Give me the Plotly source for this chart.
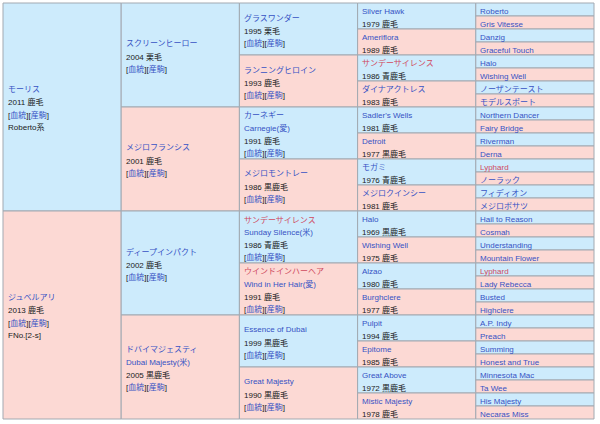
import plotly.graph_objects as go

# --- pedigree data (5 generations, top = sire side) ---
gen1_names = ["モーリス", "ジュベルアリ"]
gen1_info = ["2011 鹿毛", "2013 鹿毛"]
gen1_extra = ["Roberto系", "FNo.[2-s]"]

gen2_names = ["スクリーンヒーロー", "メジロフランシス", "ディープインパクト", "ドバイマジェスティ"]
gen2_alt = ["", "", "", "Dubai Majesty(米)"]
gen2_info = ["2004 栗毛", "2001 鹿毛", "2002 鹿毛", "2005 黒鹿毛"]

gen3_names = ["グラスワンダー", "ランニングヒロイン", "カーネギー", "メジロモントレー",
              "サンデーサイレンス", "ウインドインハーヘア", "Essence of Dubai", "Great Majesty"]
gen3_alt = ["", "", "Carnegie(愛)", "", "Sunday Silence(米)", "Wind in Her Hair(愛)", "", ""]
gen3_info = ["1995 栗毛", "1993 鹿毛", "1991 鹿毛", "1986 黒鹿毛",
             "1986 青鹿毛", "1991 鹿毛", "1999 黒鹿毛", "1990 黒鹿毛"]

gen4_names = ["Silver Hawk", "Ameriflora", "サンデーサイレンス", "ダイナアクトレス",
              "Sadler's Wells", "Detroit", "モガミ", "メジロクインシー",
              "Halo", "Wishing Well", "Alzao", "Burghclere",
              "Pulpit", "Epitome", "Great Above", "Mistic Majesty"]
gen4_info = ["1979 鹿毛", "1989 鹿毛", "1986 青鹿毛", "1983 鹿毛",
             "1981 鹿毛", "1977 黒鹿毛", "1976 青鹿毛", "1981 鹿毛",
             "1969 黒鹿毛", "1975 鹿毛", "1980 鹿毛", "1977 鹿毛",
             "1994 鹿毛", "1985 鹿毛", "1972 黒鹿毛", "1978 鹿毛"]

gen5_names = ["Roberto", "Gris Vitesse", "Danzig", "Graceful Touch",
              "Halo", "Wishing Well", "ノーザンテースト", "モデルスポート",
              "Northern Dancer", "Fairy Bridge", "Riverman", "Derna",
              "Lyphard", "ノーラック", "フィディオン", "メジロボサツ",
              "Hail to Reason", "Cosmah", "Understanding", "Mountain Flower",
              "Lyphard", "Lady Rebecca", "Busted", "Highclere",
              "A.P. Indy", "Preach", "Summing", "Honest and True",
              "Minnesota Mac", "Ta Wee", "His Majesty", "Necaras Miss"]

red_links = ["サンデーサイレンス", "ウインドインハーヘア", "Lyphard"]

BLUE_BG = "#cdebfc"
PINK_BG = "#fcd9d4"
LINK = "#3652c4"
RED = "#d04a5e"
TEXT = "#202122"
LINKS_LINE = ("[<span style='color:%s'>血統</span>][<span style='color:%s'>産駒</span>]"
              % (LINK, LINK))


def name_color(n):
    return RED if n in red_links else LINK


# build per-generation lists of cell lines
generations = []
generations.append([
    [(gen1_names[i], name_color(gen1_names[i])), (gen1_info[i], TEXT),
     (LINKS_LINE, TEXT), (gen1_extra[i], TEXT)]
    for i in range(len(gen1_names))
])
generations.append([
    [(gen2_names[i], name_color(gen2_names[i]))]
    + ([(gen2_alt[i], LINK)] if gen2_alt[i] else [])
    + [(gen2_info[i], TEXT), (LINKS_LINE, TEXT)]
    for i in range(len(gen2_names))
])
generations.append([
    [(gen3_names[i], name_color(gen3_names[i]))]
    + ([(gen3_alt[i], LINK)] if gen3_alt[i] else [])
    + [(gen3_info[i], TEXT), (LINKS_LINE, TEXT)]
    for i in range(len(gen3_names))
])
generations.append([
    [(gen4_names[i], name_color(gen4_names[i])), (gen4_info[i], TEXT)]
    for i in range(len(gen4_names))
])
generations.append([
    [(gen5_names[i], name_color(gen5_names[i]))]
    for i in range(len(gen5_names))
])

TOTAL_ROWS = 32
COL_PX = 118.2
ROW_PX = 13.0
LINE_STEP = 12.6 / ROW_PX
TEXT_SHIFT = 1.5 / ROW_PX   # nudge text down a touch

fig = go.Figure()
shapes = []
annotations = []

for g, cells in enumerate(generations):
    span = TOTAL_ROWS / len(cells)
    for i, lines in enumerate(cells):
        y0, y1 = i * span, (i + 1) * span
        shapes.append(dict(
            type="rect", xref="x", yref="y", x0=g, x1=g + 1, y0=y0, y1=y1,
            fillcolor=BLUE_BG if i % 2 == 0 else PINK_BG,
            line=dict(color="#a2a9b1", width=1), layer="below",
        ))
        mid = (y0 + y1) / 2 + TEXT_SHIFT
        n = len(lines)
        for k, (txt, col) in enumerate(lines):
            annotations.append(dict(
                x=g + 2.5 / COL_PX, y=mid + (k - (n - 1) / 2) * LINE_STEP,
                xref="x", yref="y", text=txt, showarrow=False,
                xanchor="left", yanchor="middle",
                font=dict(size=8, color=col,
                          family="Liberation Sans, Arial, Noto Sans CJK JP"),
            ))

# invisible trace so the axes are drawn from data
fig.add_trace(go.Scatter(x=[0, 5], y=[0, TOTAL_ROWS], mode="markers",
                         marker=dict(opacity=0), hoverinfo="skip",
                         showlegend=False))

x0 = -3 / COL_PX
fig.update_layout(
    width=600, height=424,
    margin=dict(l=0, r=0, t=0, b=0),
    paper_bgcolor="white", plot_bgcolor="white",
    shapes=shapes, annotations=annotations,
    xaxis=dict(range=[x0, x0 + 600 / COL_PX], visible=False, fixedrange=True),
    yaxis=dict(range=[TOTAL_ROWS + 5 / ROW_PX, -3 / ROW_PX], visible=False,
               fixedrange=True),
    showlegend=False,
)

# page body has a default 8px margin; drop it so the chart sits at 0,0
fig.write_html("out.html", config={"displayModeBar": False},
               post_script="document.body.style.margin='0';")
